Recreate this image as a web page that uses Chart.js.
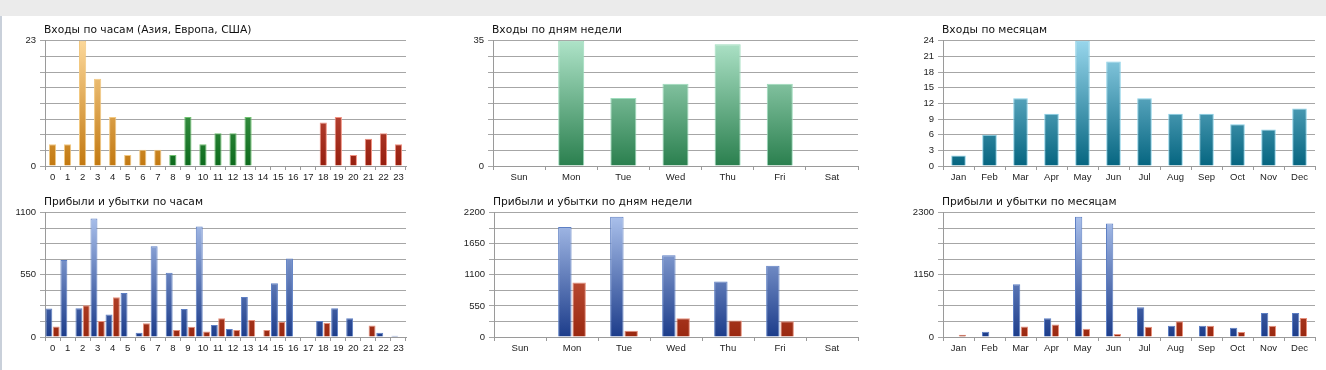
<!DOCTYPE html>
<html lang="ru">
<head>
    <meta charset="UTF-8">
    <title>Статистика входов и прибыли</title>
    <script src="https://cdn.jsdelivr.net/npm/chart.js"></script>
    <style>
        html, body { margin: 0; padding: 0; background: #fff; }
        body { width: 1326px; height: 370px; position: relative; overflow: hidden; }
        #band { position: absolute; left: 0; top: 0; width: 1326px; height: 16px; background: #ebebeb; }
        #edge { position: absolute; left: 0; top: 16px; width: 2px; height: 354px; background: #c9d0da; }
        .title { position: absolute; font-family: "DejaVu Sans", sans-serif; font-size: 10.7px; line-height: 12px; color: #111; white-space: nowrap; }
        canvas { position: absolute; }
    </style>
</head>
<body>
    <div id="band"></div>
    <div id="edge"></div>

    <script>
        // categories
        const hours = ['0','1','2','3','4','5','6','7','8','9','10','11','12','13','14','15','16','17','18','19','20','21','22','23'];
        const days = ['Sun','Mon','Tue','Wed','Thu','Fri','Sat'];
        const months = ['Jan','Feb','Mar','Apr','May','Jun','Jul','Aug','Sep','Oct','Nov','Dec'];

        // logins
        const hourLogins = [4,4,23,16,9,2,3,3,2,9,4,6,6,9,0,0,0,0,8,9,2,5,6,4];
        const dayLogins = [0,35,19,23,34,23,0];
        const monthLogins = [2,6,13,10,24,20,13,10,10,8,7,11];

        // profit / loss
        const hourProfit = [252,682,255,1048,200,389,38,804,569,247,978,107,70,354,0,476,694,0,142,255,165,0,38,12];
        const hourLoss = [93,0,282,142,351,0,122,0,61,90,49,165,61,151,61,136,0,0,125,0,0,102,0,0];
        const dayProfit = [0,1945,2130,1445,981,1260,0];
        const dayLoss = [0,964,110,331,290,279,0];
        const monthProfit = [0,97,977,346,2227,2100,552,206,206,170,443,443];
        const monthLoss = [42,0,194,231,152,55,188,291,206,91,206,352];

        // y axis: top value and which grid lines get a label
        const yTops = [23, 35, 24, 1100, 2200, 2300];
        const yLabelEvery = [8, 8, 1, 4, 2, 4];

        const titles = [
            'Входы по часам (Азия, Европа, США)',
            'Входы по дням недели',
            'Входы по месяцам',
            'Прибыли и убытки по часам',
            'Прибыли и убытки по дням недели',
            'Прибыли и убытки по месяцам'
        ];

        // plot area of each chart on the page: axis left, right, top, bottom
        const areas = [
            [45, 406, 39, 166], [493, 858, 39, 166], [943, 1315, 39, 166],
            [45, 406, 211, 337], [494, 858, 211, 337], [943, 1315, 211, 337]
        ];

        const Y_W = 44, X_H = 22, PAD_T = 8, PAD_R = 4;
        const tickFont = { family: 'Liberation Sans', size: 9.5 };

        function grad(top, bottom) {
            return function (c) {
                const a = c.chart.chartArea;
                if (!a) return bottom;
                const g = c.chart.ctx.createLinearGradient(0, a.top, 0, a.bottom);
                g.addColorStop(0, top);
                g.addColorStop(1, bottom);
                return g;
            };
        }

        const orange = grad('#fcd89a', '#c27810');
        const green = grad('#6cc070', '#0c6a1c');
        const red = grad('#e07060', '#961e0e');
        const mint = grad('#aee3c8', '#2a7f4e');
        const teal = grad('#98d6ec', '#056580');
        const blue = grad('#aec4ee', '#1c3c8a');
        const brick = grad('#dc7058', '#9a2810');

        function options(i) {
            const top = yTops[i], every = yLabelEvery[i];
            return {
                responsive: false,
                animation: false,
                layout: { padding: { top: PAD_T, right: PAD_R, left: 0, bottom: 0 } },
                plugins: { legend: { display: false }, tooltip: { enabled: false }, title: { display: false } },
                scales: {
                    x: {
                        grid: { offset: true, drawOnChartArea: false, tickLength: 4, color: '#9a9a9a' },
                        border: { color: '#9a9a9a' },
                        ticks: { color: '#222', font: tickFont, padding: 2, maxRotation: 0, autoSkip: false },
                        afterFit: s => { s.height = X_H; }
                    },
                    y: {
                        min: 0,
                        max: top,
                        grid: { color: '#a6a6a6', tickLength: 5 },
                        border: { color: '#9a9a9a' },
                        ticks: {
                            stepSize: top / 8,
                            autoSkip: false,
                            color: '#222',
                            font: tickFont,
                            padding: 4,
                            callback: (v, idx) => idx % every === 0 ? String(v) : ''
                        },
                        afterFit: s => { s.width = Y_W; }
                    }
                }
            };
        }

        function makeCanvas(i) {
            const [l, r, t, b] = areas[i];
            const cv = document.createElement('canvas');
            const left = l - Y_W, topPx = t - PAD_T;
            cv.width = r + PAD_R - left;
            cv.height = b + X_H - topPx;
            cv.style.left = left + 'px';
            cv.style.top = topPx + 'px';
            document.body.appendChild(cv);

            const ttl = document.createElement('div');
            ttl.className = 'title';
            ttl.textContent = titles[i];
            ttl.style.left = (l - 1) + 'px';
            ttl.style.top = (t - 15) + 'px';
            document.body.appendChild(ttl);
            return cv;
        }

        function single(i, labels, data, bg, border, pct) {
            new Chart(makeCanvas(i), {
                type: 'bar',
                data: {
                    labels: labels,
                    datasets: [{ data: data, backgroundColor: bg, borderColor: border, borderWidth: 1, categoryPercentage: 1, barPercentage: pct }]
                },
                options: options(i)
            });
        }

        function pair(i, labels, profit, loss, catPct) {
            new Chart(makeCanvas(i), {
                type: 'bar',
                data: {
                    labels: labels,
                    datasets: [
                        { data: profit, backgroundColor: blue, borderColor: '#5d7fc4', borderWidth: 1, categoryPercentage: catPct, barPercentage: 0.94 },
                        { data: loss, backgroundColor: brick, borderColor: '#e6907c', borderWidth: 1, categoryPercentage: catPct, barPercentage: 0.94 }
                    ]
                },
                options: options(i)
            });
        }

        // hours are coloured by region: Asia 0-7, Europe 8-13, USA 14-23
        const hourColor = c => (c.dataIndex < 8 ? orange : c.dataIndex < 14 ? green : red)(c);
        const hourBorder = c => c.dataIndex < 8 ? '#f2c880' : c.dataIndex < 14 ? '#70c070' : '#f09080';

        single(0, hours, hourLogins, hourColor, hourBorder, 0.48);
        single(1, days, dayLogins, mint, '#9ddcbc', 0.5);
        single(2, months, monthLogins, teal, '#86cfe6', 0.47);
        pair(3, hours, hourProfit, hourLoss, 0.98);
        pair(4, days, dayProfit, dayLoss, 0.55);
        pair(5, months, monthProfit, monthLoss, 0.5);
    </script>
</body>
</html>
